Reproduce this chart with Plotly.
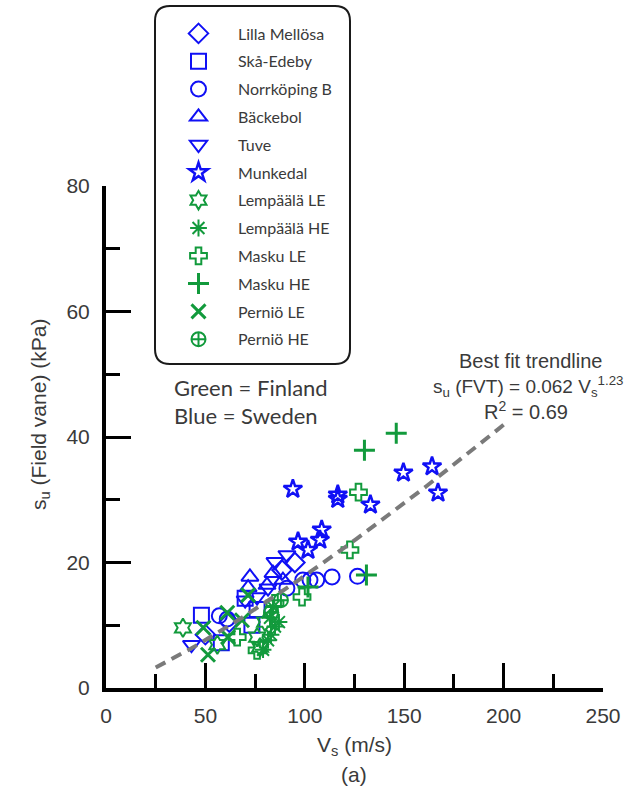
import numpy as np
import plotly.graph_objects as go

# ---------------- data ----------------
lilla_x = [50, 62, 88.5, 95]
lilla_y = [8.5, 10.5, 18.8, 20.0]

skaa_x = [48, 58, 70, 73.4, 76]
skaa_y = [11.6, 7.2, 14.3, 10.0, 12.5]

norr_x = [57, 61, 91, 99, 102.6, 106, 113.7, 126.5]
norr_y = [11.5, 11.0, 15.9, 17.2, 17.2, 17.2, 17.7, 17.8]

backe_x = [71.5, 72.4, 81, 84, 89]
backe_y = [16.0, 17.7, 16.4, 18.3, 17.2]

tuve_x = [43, 70, 76, 81.5, 85, 91]
tuve_y = [6.9, 14.0, 14.5, 15.9, 20.1, 21.2]

munk_x = [94, 96.6, 101.6, 107.6, 108.5, 116.6, 116.6, 133, 149.6, 164, 167]
munk_y = [31.7, 23.3, 22.0, 23.6, 25.2, 30.8, 30.1, 29.2, 34.3, 35.3, 31.1]

lemLE_x = [38.7, 56, 76, 77.5, 80]
lemLE_y = [9.6, 6.9, 8.1, 6.5, 10.5]

lemHE_x = [79, 81.5, 82.5, 84, 85, 87, 83]
lemHE_y = [6.1, 7.6, 11.2, 12.9, 9.8, 10.5, 8.5]

maskLE_x = [66, 76, 85, 98.6, 122.7, 127]
maskLE_y = [8.1, 6.0, 13.5, 14.5, 22.0, 31.2]

maskHE_x = [101.6, 130, 131, 146]
maskHE_y = [16.1, 37.9, 18.0, 40.6]

perLE_x = [49, 51.3, 61, 61.4, 68.4, 71.5]
perLE_y = [9.6, 5.3, 12.0, 8.1, 10.8, 14.8]

perHE_x = [83, 88]
perHE_y = [12.0, 14.0]

# trendline su = a * Vs^b (as stated on the chart)
trend_a = 0.062
trend_b = 1.23
trend_vs_range = [25, 200]

x_ticks = [0, 50, 100, 150, 200, 250]
y_ticks = [0, 20, 40, 60, 80]

BLUE = "#1010F5"
GREEN = "#129A3C"
TXT = "#3a3a3a"

series = [
    ("Lilla Mellösa", lilla_x, lilla_y, "diamond-open", BLUE, 2, 15),
    ("Skå-Edeby", skaa_x, skaa_y, "square-open", BLUE, 2, 15),
    ("Norrköping B", norr_x, norr_y, "circle-open", BLUE, 2, 15),
    ("Bäckebol", backe_x, backe_y, "triangle-up-open", BLUE, 2, 15),
    ("Tuve", tuve_x, tuve_y, "triangle-down-open", BLUE, 2, 15),
    ("Munkedal", munk_x, munk_y, "star-open", BLUE, 2.5, 14),
    ("Lempäälä LE", lemLE_x, lemLE_y, "hexagram-open", GREEN, 2, 14),
    ("Lempäälä HE", lemHE_x, lemHE_y, "asterisk-open", GREEN, 2, 14),
    ("Masku LE", maskLE_x, maskLE_y, "cross-open", GREEN, 2, 14),
    ("Masku HE", maskHE_x, maskHE_y, "cross-thin-open", GREEN, 3, 15),
    ("Perniö LE", perLE_x, perLE_y, "x-thin-open", GREEN, 3, 14),
    ("Perniö HE", perHE_x, perHE_y, "circle-cross-open", GREEN, 2, 14),
]

W, H = 626, 792
ML, MR, MT, MB = 106, 23, 186, 104
PW, PH = W - ML - MR, H - MT - MB


def px(xp):
    return (xp - ML) / PW


def py(yp):
    return (H - MB - yp) / PH


fig = go.Figure()
for i, (name, xs, ys, sym, col, lw, sz) in enumerate(series):
    fig.add_trace(go.Scatter(
        x=xs, y=ys, mode="markers", name=name, legendgroup=f"g{i}",
        marker=dict(symbol=sym, size=sz, color=col,
                    line=dict(color=col, width=lw)),
    ))

vs = np.linspace(trend_vs_range[0], trend_vs_range[1], 60)
fig.add_trace(go.Scatter(
    x=vs, y=trend_a * vs ** trend_b, mode="lines", showlegend=False,
    line=dict(color="#7a7a7a", width=4, dash="11px,7px"),
))

axis_common = dict(
    showline=True, linecolor="black", linewidth=4,
    ticks="inside", ticklen=25, tickwidth=3, tickcolor="black",
    showgrid=False, zeroline=False,
    tickfont=dict(family="Liberation Sans, Arial", size=21, color=TXT),
)

fig.update_xaxes(range=[0, 250], tickvals=x_ticks,
                 minor=dict(ticks="inside", ticklen=14, tickwidth=3,
                            tickcolor="black", dtick=25, showgrid=False),
                 ticklabelstandoff=6, **axis_common)
fig.update_yaxes(range=[0, 80], tickvals=y_ticks,
                 minor=dict(ticks="inside", ticklen=14, tickwidth=3,
                            tickcolor="black", dtick=10, showgrid=False),
                 ticklabelstandoff=8, **axis_common)

# rounded legend box
x0, x1, y0, y1, r = px(155), px(350), py(6), py(364), 15
rx, ry = r / PW, r / PH
path = (f"M {x0+rx},{y0} L {x1-rx},{y0} Q {x1},{y0} {x1},{y0-ry} "
        f"L {x1},{y1+ry} Q {x1},{y1} {x1-rx},{y1} L {x0+rx},{y1} "
        f"Q {x0},{y1} {x0},{y1+ry} L {x0},{y0-ry} Q {x0},{y0} {x0+rx},{y0} Z")
fig.add_shape(type="path", path=path, xref="paper", yref="paper",
              line=dict(color="#1a1a1a", width=2), fillcolor="white", layer="below")

annots = [
    dict(x=px(40), y=py(415), text="s<sub>u</sub> (Field vane) (kPa)", textangle=-90,
         font=dict(family="Liberation Sans, Arial", size=21, color=TXT)),
    dict(x=px(354), y=py(746), text="V<sub>s</sub> (m/s)",
         font=dict(family="Liberation Sans, Arial", size=21, color=TXT)),
    dict(x=px(354), y=py(774), text="(a)",
         font=dict(family="Liberation Sans, Arial", size=21, color=TXT)),
    dict(x=px(172), y=py(387), text="Green = Finland", xanchor="left",
         font=dict(family="Lato", size=22, color=TXT)),
    dict(x=px(172), y=py(415), text="Blue = Sweden", xanchor="left",
         font=dict(family="Lato", size=22, color=TXT)),
    dict(x=px(530), y=py(361), text="Best fit trendline",
         font=dict(family="Liberation Sans, Arial", size=20, color=TXT)),
    dict(x=px(625), y=py(386), xanchor="right",
         text="s<sub>u</sub> (FVT) = 0.062 V<sub>s</sub><sup>1.23</sup>",
         font=dict(family="Liberation Sans, Arial", size=19, color=TXT)),
    dict(x=px(526), y=py(410), text="R<sup>2</sup> = 0.69",
         font=dict(family="Liberation Sans, Arial", size=20, color=TXT)),
]
for a in annots:
    a.update(xref="paper", yref="paper", showarrow=False)
    a.setdefault("xanchor", "center")
    a.setdefault("yanchor", "middle")
    fig.add_annotation(**a)

fig.update_layout(
    width=W, height=H,
    margin=dict(l=ML, r=MR, t=MT, b=MB, autoexpand=False),
    paper_bgcolor="white", plot_bgcolor="white",
    showlegend=True,
    legend=dict(x=px(159), y=py(16.5), xanchor="left", yanchor="top",
                bgcolor="rgba(0,0,0,0)", borderwidth=0,
                tracegroupgap=4, itemsizing="trace", itemwidth=69,
                font=dict(family="Lato", size=16, color=TXT)),
)

fig.write_html("out.html", config={"displayModeBar": False},
               post_script="document.body.style.margin='0';document.body.style.overflow='hidden';")
